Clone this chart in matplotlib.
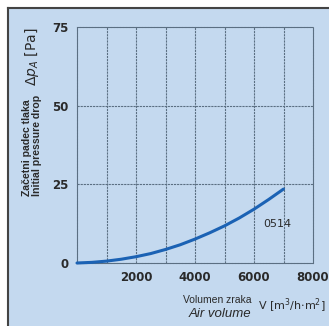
import numpy as np
import matplotlib.pyplot as plt
from matplotlib.patches import Rectangle
from matplotlib.lines import Line2D

# air volume V (m3/h.m2) and initial pressure drop (Pa)
volume = [0, 500, 1000, 1500, 2000, 2500, 3000, 3500, 4000, 4500, 5000, 5500, 6000, 6500, 7000]
dp = [0, 0.2, 0.6, 1.2, 2.0, 3.0, 4.3, 5.8, 7.6, 9.6, 11.8, 14.3, 17.1, 20.2, 23.5]
xticks = [2000, 4000, 6000, 8000]
yticks = [0, 25, 50, 75]
curve_name = '0514'

bg = '#c4d9ef'
grid_c = '#5b6f82'
txt_c = '#2a2a2a'
lib = 'Liberation Sans'

fig = plt.figure(figsize=(3.29, 3.26), dpi=100)
fig.patch.set_facecolor('white')
# light blue panel with dark border on top and left
fig.patches.append(Rectangle((8/329, 0), 1, 1 - 8/326, transform=fig.transFigure,
                             facecolor=bg, edgecolor='none', zorder=-10))
fig.lines.append(Line2D([8/329, 8/329], [0, 1 - 8/326], transform=fig.transFigure,
                        color='#444444', lw=1.5))
fig.lines.append(Line2D([8/329, 1], [1 - 8/326, 1 - 8/326], transform=fig.transFigure,
                        color='#444444', lw=1.5))

ax = fig.add_axes([77/329, 1 - 263/326, 236/329, 236/326])
ax.set_facecolor(bg)
ax.set_xlim(0, 8000)
ax.set_ylim(0, 75)
for x in range(1000, 8000, 1000):
    ax.axvline(x, color=grid_c, lw=0.8, ls=(0, (2, 0.8)), zorder=1)
for y in [25, 50]:
    ax.axhline(y, color=grid_c, lw=0.8, ls=(0, (2, 0.8)), zorder=1)
for s in ax.spines.values():
    s.set_color(grid_c)
    s.set_linewidth(0.8)
    s.set_linestyle((0, (2, 0.8)))

ax.plot(volume, dp, color='#1b62b4', lw=2.2, solid_capstyle='round', zorder=3, clip_on=False)
ax.text(6300, 12.3, curve_name, fontsize=8, color=txt_c, va='center')

ax.set_xticks(xticks)
ax.set_yticks(yticks)
ax.tick_params(length=0, labelsize=8.5, colors=txt_c, pad=6)
for lab in ax.get_xticklabels() + ax.get_yticklabels():
    lab.set_fontweight('bold')
    lab.set_color(txt_c)

# y label
fig.text(27/329, 1 - 196/326, 'Začetni padec tlaka', rotation=90, fontsize=7.6,
         color=txt_c, ha='center', va='bottom', family=lib, fontweight='bold')
fig.text(37/329, 1 - 196/326, 'Initial pressure drop', rotation=90, fontsize=7.6,
         color=txt_c, ha='center', va='bottom', family=lib, fontweight='bold')
fig.text(32/329, 1 - 86/326, r'$\Delta p_A$ [Pa]', rotation=90, fontsize=10,
         color=txt_c, ha='center', va='bottom')

# x label
fig.text(217/329, 1 - 300/326, 'Volumen zraka', fontsize=7.5, color=txt_c,
         ha='center', va='center', family=lib)
fig.text(220/329, 1 - 314/326, 'Air volume', fontsize=9.5, color=txt_c,
         ha='center', va='center', style='italic', family=lib)
fig.text(258/329, 1 - 306/326, r'V [m$^3$/h$\cdot$m$^2$]', fontsize=8, color=txt_c,
         ha='left', va='center')

fig.savefig('out.png', dpi=100, facecolor=fig.get_facecolor())
